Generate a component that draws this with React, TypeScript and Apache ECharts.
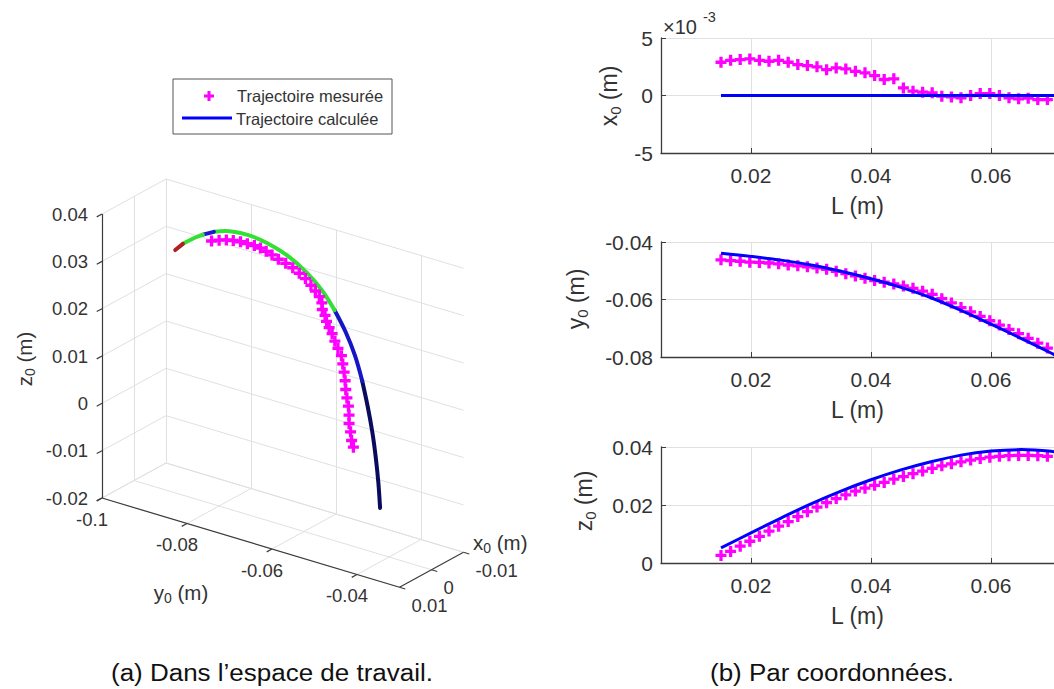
import React, { useEffect, useRef } from "react";
import * as echarts from "echarts";

// ---------- data ----------
// calculated trajectory (model), arc length L (m) and tip coordinates (m)
const calcL = [0, 0.005, 0.01, 0.015, 0.02, 0.025, 0.03, 0.035, 0.04, 0.045, 0.05, 0.055, 0.06, 0.065, 0.07, 0.0725, 0.075, 0.0775, 0.08, 0.082];
const calcX = [0, 0, 0, 0, 0, 0, 0, 0, 0, 0, 0, 0, 0, 0, 0, 0, 0, 0, 0, 0];
const calcY = [-0.0421, -0.0425, -0.0431, -0.0439, -0.045, -0.0463, -0.048, -0.0502, -0.0528, -0.0558, -0.0594, -0.0638, -0.0686, -0.0735, -0.0786, -0.0812, -0.0838, -0.0862, -0.0885, -0.0903];
const calcZ = [-0.0102, -0.005, 0.0001, 0.0052, 0.0104, 0.0155, 0.0204, 0.0248, 0.0287, 0.0321, 0.0349, 0.0372, 0.0386, 0.0391, 0.0385, 0.0376, 0.0363, 0.0348, 0.0331, 0.0313];

// measured trajectory
const measL = [0.015, 0.0166, 0.0182, 0.0198, 0.0214, 0.023, 0.0246, 0.0262, 0.0278, 0.0294, 0.031, 0.0326, 0.0342, 0.0358, 0.0374, 0.039, 0.0406, 0.0422, 0.0438, 0.0454, 0.047, 0.0486, 0.0502, 0.0518, 0.0534, 0.055, 0.0566, 0.0582, 0.0598, 0.0614, 0.063, 0.0646, 0.0662, 0.0678, 0.0694, 0.071, 0.0726, 0.0742];
const measX = [0.00289, 0.00306, 0.00312, 0.00318, 0.00306, 0.00298, 0.00306, 0.00289, 0.00269, 0.0026, 0.00249, 0.00225, 0.0024, 0.00231, 0.0021, 0.00197, 0.00173, 0.00139, 0.00145, 0.00066, 0.00038, 0.00029, 0.00023, -0.00006, -0.00012, -0.0002, 0, 0.00017, 0.00017, 0, -0.0002, -0.00029, -0.00023, -0.00035, -0.00035, -0.0003, -0.0003, -0.0002];
const measY = [-0.0462, -0.0465, -0.0467, -0.047, -0.0471, -0.0473, -0.0476, -0.048, -0.0483, -0.0486, -0.049, -0.0495, -0.0502, -0.051, -0.0518, -0.0526, -0.0534, -0.054, -0.0546, -0.0553, -0.0561, -0.0571, -0.0582, -0.0597, -0.0612, -0.0628, -0.0643, -0.0659, -0.0674, -0.0689, -0.0704, -0.0719, -0.0735, -0.0752, -0.0769, -0.0785, -0.0802, -0.0819];
const measZ = [0.0026, 0.004, 0.0058, 0.0075, 0.0092, 0.011, 0.0127, 0.0143, 0.016, 0.0177, 0.0193, 0.0208, 0.0222, 0.0235, 0.0248, 0.0258, 0.0268, 0.0278, 0.0289, 0.0298, 0.0308, 0.0317, 0.0326, 0.0335, 0.0342, 0.0349, 0.0355, 0.036, 0.0365, 0.0368, 0.037, 0.0371, 0.0371, 0.037, 0.0368, 0.0365, 0.036, 0.0354];

// tick values
const lTicks = [0.02, 0.04, 0.06];
const x3dTicks = [-0.01, 0, 0.01];
const y3dTicks = [-0.1, -0.08, -0.06, -0.04];
const z3dTicks = [-0.02, -0.01, 0, 0.01, 0.02, 0.03, 0.04];
const x3dRange = [-0.01, 0.01];
const y3dRange = [-0.1, -0.03];
const z3dRange = [-0.02, 0.04];

// colour pieces of the calculated curve in the 3D view (by L range)
const calcPieces = [
  { from: 0, to: 0.025, color: "#0b0b5e" },
  { from: 0.025, to: 0.04, color: "#1616c4" },
  { from: 0.04, to: 0.0725, color: "#35e035" },
  { from: 0.0725, to: 0.075, color: "#1a1acc" },
  { from: 0.075, to: 0.08, color: "#35e035" },
  { from: 0.08, to: 0.082, color: "#b02020" },
];

// ---------- styling ----------
const FONT = '"Liberation Sans", Arial, Helvetica, sans-serif';
const TXT = "#333333";
const AX = "#3c3c3c";
const GRIDC = "#e0e0e0";
const BLUE = "#0000ff";
const MAG = "#ff00ff";
const PLUS = "path://M3.5,0H6.5V3.5H10V6.5H6.5V10H3.5V6.5H0V3.5H3.5Z";

// 3D projection (orthographic view): pixel position of a data point
const VIEW = { ox: 102, oy: 498, yx: 4250, yy: 1275, xx: 3200, xy: -1750, zy: -4733 };
function proj(x: number, y: number, z: number): [number, number] {
  const dy = y - y3dRange[0];
  const dx = x3dRange[1] - x;
  const dz = z - z3dRange[0];
  return [VIEW.ox + dy * VIEW.yx + dx * VIEW.xx, VIEW.oy + dy * VIEW.yy + dx * VIEW.xy + dz * VIEW.zy];
}

function fmt2(v: number) {
  if (Math.abs(v) < 1e-12) return "0";
  return v.toFixed(2);
}

function buildOption() {
  const plotTops = [38, 242, 447];
  const plotHeights = [115, 115, 116];
  const grids: any[] = plotTops.map((t, i) => ({ left: 661, right: 0, top: t, height: plotHeights[i] }));
  grids.push({ left: 0, top: 0, width: 1054, height: 689 });

  const xAxes: any[] = [0, 1, 2].map((g) => ({
    type: "value",
    gridIndex: g,
    min: 0.005,
    max: 0.0705,
    axisLine: { show: true, onZero: false, lineStyle: { color: AX, width: 1.3 } },
    axisTick: { show: true, inside: true, length: 5, customValues: lTicks, lineStyle: { color: AX } },
    axisLabel: { customValues: lTicks, formatter: (v: number) => fmt2(v), fontSize: 21, color: TXT, margin: 12, fontFamily: FONT },
    splitLine: { show: true, lineStyle: { color: GRIDC, width: 1 } },
    name: "L (m)",
    nameLocation: "middle",
    nameGap: 41,
    nameTextStyle: { fontSize: 23, color: TXT, fontFamily: FONT },
  }));
  xAxes.push({ type: "value", gridIndex: 3, min: 0, max: 1054, show: false });

  const yRanges = [
    { min: -0.005, max: 0.005, interval: 0.005, f: (v: number) => String(Math.round(v * 1000)) },
    { min: -0.08, max: -0.04, interval: 0.02, f: fmt2 },
    { min: 0, max: 0.04, interval: 0.02, f: fmt2 },
  ];
  const yAxes: any[] = yRanges.map((r, g) => ({
    type: "value",
    gridIndex: g,
    min: r.min,
    max: r.max,
    interval: r.interval,
    axisLine: { show: true, onZero: false, lineStyle: { color: AX, width: 1.3 } },
    axisTick: { show: true, inside: true, length: 5, lineStyle: { color: AX } },
    axisLabel: { formatter: r.f, fontSize: 21, color: TXT, margin: 8, fontFamily: FONT },
    splitLine: { show: true, lineStyle: { color: GRIDC, width: 1 } },
  }));
  yAxes.push({ type: "value", gridIndex: 3, min: 0, max: 689, inverse: true, show: false });

  const series: any[] = [];
  // ---- right: per-coordinate plots ----
  const measPerPlot = [measX, measY, measZ];
  const calcPerPlot = [calcX, calcY, calcZ];
  for (let g = 0; g < 3; g++) {
    series.push({
      type: "scatter",
      xAxisIndex: g,
      yAxisIndex: g,
      data: measL.map((l, i) => [l, measPerPlot[g][i]]),
      symbol: PLUS,
      symbolSize: 11,
      itemStyle: { color: MAG, opacity: 1 },
      silent: true,
      z: 2,
    });
    series.push({
      type: "line",
      xAxisIndex: g,
      yAxisIndex: g,
      data: calcL.map((l, i) => [l, calcPerPlot[g][i]]).filter((p) => p[0] >= 0.0149),
      showSymbol: false,
      symbol: "none",
      smooth: 0.35,
      lineStyle: { color: BLUE, width: 3 },
      silent: true,
      z: 3,
    });
  }

  // ---- left: 3D box ----
  const gridSegs: any[] = [];
  const seg = (a: [number, number, number], b: [number, number, number]) => ({ coords: [proj(...a), proj(...b)] });
  const [xmin, xmax] = x3dRange;
  const [ymin, ymax] = y3dRange;
  const [zmin, zmax] = z3dRange;
  // back wall (x = xmin)
  z3dTicks.forEach((z) => gridSegs.push(seg([xmin, ymin, z], [xmin, ymax, z])));
  y3dTicks.forEach((y) => gridSegs.push(seg([xmin, y, zmin], [xmin, y, zmax])));
  // side wall (y = ymin)
  z3dTicks.forEach((z) => gridSegs.push(seg([xmax, ymin, z], [xmin, ymin, z])));
  x3dTicks.forEach((x) => gridSegs.push(seg([x, ymin, zmin], [x, ymin, zmax])));
  // floor (z = zmin)
  x3dTicks.forEach((x) => gridSegs.push(seg([x, ymin, zmin], [x, ymax, zmin])));
  y3dTicks.forEach((y) => gridSegs.push(seg([xmax, y, zmin], [xmin, y, zmin])));
  series.push({
    type: "lines",
    coordinateSystem: "cartesian2d",
    xAxisIndex: 3,
    yAxisIndex: 3,
    data: gridSegs,
    lineStyle: { color: GRIDC, width: 1, opacity: 1 },
    silent: true,
    z: 1,
  });

  const axSegs: any[] = [
    seg([xmax, ymin, zmin], [xmax, ymin, zmax]),
    seg([xmax, ymin, zmin], [xmax, ymax, zmin]),
    seg([xmax, ymax, zmin], [xmin, ymax, zmin]),
  ];
  // tick marks
  const TL = 6;
  const ux = [-0.877, 0.48]; // direction of increasing x on screen
  const uy = [0.958, 0.287]; // direction of increasing y on screen
  z3dTicks.forEach((z) => {
    const p = proj(xmax, ymin, z);
    axSegs.push({ coords: [p, [p[0] + ux[0] * TL, p[1] + ux[1] * TL]] });
  });
  y3dTicks.forEach((y) => {
    const p = proj(xmax, y, zmin);
    axSegs.push({ coords: [p, [p[0] + ux[0] * TL, p[1] + ux[1] * TL]] });
  });
  x3dTicks.forEach((x) => {
    const p = proj(x, ymax, zmin);
    axSegs.push({ coords: [p, [p[0] + uy[0] * TL, p[1] + uy[1] * TL]] });
  });
  series.push({
    type: "lines",
    coordinateSystem: "cartesian2d",
    xAxisIndex: 3,
    yAxisIndex: 3,
    data: axSegs,
    lineStyle: { color: AX, width: 1.2, opacity: 1 },
    silent: true,
    z: 2,
  });

  // calculated curve pieces
  calcPieces.forEach((pc) => {
    const pts: [number, number][] = [];
    calcL.forEach((l, i) => {
      if (l >= pc.from - 1e-9 && l <= pc.to + 1e-9) pts.push(proj(calcX[i], calcY[i], calcZ[i]));
    });
    series.push({
      type: "line",
      xAxisIndex: 3,
      yAxisIndex: 3,
      data: pts,
      showSymbol: false,
      symbol: "none",
      smooth: 0.35,
      lineStyle: { color: pc.color, width: 4, cap: "round" },
      silent: true,
      z: 3,
    });
  });

  // measured points in 3D
  series.push({
    type: "scatter",
    xAxisIndex: 3,
    yAxisIndex: 3,
    data: measL.map((_, i) => proj(measX[i], measY[i], measZ[i])),
    symbol: PLUS,
    symbolSize: 11,
    itemStyle: { color: MAG, opacity: 1 },
    silent: true,
    z: 4,
  });

  // ---- graphic: texts, legend, captions ----
  const g: any[] = [];
  const t = (x: number, y: number, text: string, size: number, align = "center", vAlign = "middle", extra: any = {}) => ({
    type: "text",
    x,
    y,
    silent: true,
    z: 50,
    ...extra,
    style: { text, fontSize: size, fontFamily: FONT, fill: TXT, align, verticalAlign: vAlign, ...(extra.style || {}) },
  });
  const subLabel = (letter: string, size: number, sub: number) => ({
    text: `{n|${letter}}{s|0}{n| (m)}`,
    rich: {
      n: { fontSize: size, fontFamily: FONT, fill: TXT },
      s: { fontSize: sub, fontFamily: FONT, fill: TXT, padding: [12, 0, 0, 0] },
    },
  });

  // 3D tick labels
  z3dTicks.forEach((z) => {
    const p = proj(xmax, ymin, z);
    g.push(t(p[0] - 14, p[1], fmt2(z), 18.5, "right"));
  });
  y3dTicks.forEach((y) => {
    const p = proj(xmax, y, zmin);
    const s = Math.abs(y + 0.1) < 1e-9 ? "-0.1" : fmt2(y);
    g.push(t(p[0] - 10, p[1] + 21, s, 18.5, "center"));
  });
  x3dTicks.forEach((x) => {
    const p = proj(x, ymax, zmin);
    g.push(t(p[0] + 12, p[1] + 18, fmt2(x), 18.5, "left"));
  });
  // 3D axis names
  g.push({ type: "text", x: 24, y: 359, rotation: Math.PI / 2, silent: true, z: 50, style: { ...subLabel("z", 20.5, 14), align: "center", verticalAlign: "middle" } });
  g.push({ type: "text", x: 181, y: 592, silent: true, z: 50, style: { ...subLabel("y", 20.5, 14), align: "center", verticalAlign: "middle" } });
  g.push({ type: "text", x: 473, y: 542, silent: true, z: 50, style: { ...subLabel("x", 20.5, 14), align: "left", verticalAlign: "middle" } });

  // right y-axis names
  const yNames = [
    { l: "x", x: 609, y: 96 },
    { l: "y", x: 576, y: 299 },
    { l: "z", x: 584, y: 501 },
  ];
  yNames.forEach((n) =>
    g.push({ type: "text", x: n.x, y: n.y, rotation: Math.PI / 2, silent: true, z: 50, style: { ...subLabel(n.l, 23, 15), align: "center", verticalAlign: "middle" } })
  );
  // exponent of plot 1
  g.push(t(663, 27, "×10", 20, "left"));
  g.push(t(703, 17, "-3", 14.5, "left"));

  // legend
  g.push({ type: "rect", shape: { x: 173, y: 79, width: 219, height: 55 }, style: { fill: "#ffffff", stroke: "#555555", lineWidth: 1 }, silent: true, z: 60 });
  g.push({ type: "rect", shape: { x: 204, y: 94.5, width: 10, height: 3 }, style: { fill: MAG }, silent: true, z: 61 });
  g.push({ type: "rect", shape: { x: 207.5, y: 91, width: 3, height: 10 }, style: { fill: MAG }, silent: true, z: 61 });
  g.push({ type: "line", shape: { x1: 182, y1: 118, x2: 232, y2: 118 }, style: { stroke: BLUE, lineWidth: 3 }, silent: true, z: 61 });
  g.push({ ...t(237, 96, "Trajectoire mesurée", 16.5, "left"), z: 62 });
  g.push({ ...t(236, 119, "Trajectoire calculée", 16.5, "left"), z: 62 });

  // captions
  g.push({ type: "text", x: 272, y: 673, scaleX: 1.13, silent: true, z: 50, style: { text: "(a) Dans l’espace de travail.", fontSize: 23, fontFamily: FONT, fill: "#111111", align: "center", verticalAlign: "middle" } });
  g.push({ type: "text", x: 832, y: 673, scaleX: 1.13, silent: true, z: 50, style: { text: "(b) Par coordonnées.", fontSize: 23, fontFamily: FONT, fill: "#111111", align: "center", verticalAlign: "middle" } });

  return {
    animation: false,
    backgroundColor: "#ffffff",
    textStyle: { fontFamily: FONT },
    grid: grids,
    xAxis: xAxes,
    yAxis: yAxes,
    series,
    graphic: { elements: g },
  };
}

export default function App() {
  const ref = useRef<HTMLDivElement>(null);
  useEffect(() => {
    if (!ref.current) return;
    const chart = echarts.init(ref.current, undefined, { renderer: "svg" });
    chart.setOption(buildOption() as any);
    return () => chart.dispose();
  }, []);
  return <div ref={ref} style={{ position: "fixed", left: 0, top: 0, width: 1054, height: 689, background: "#fff" }} />;
}
